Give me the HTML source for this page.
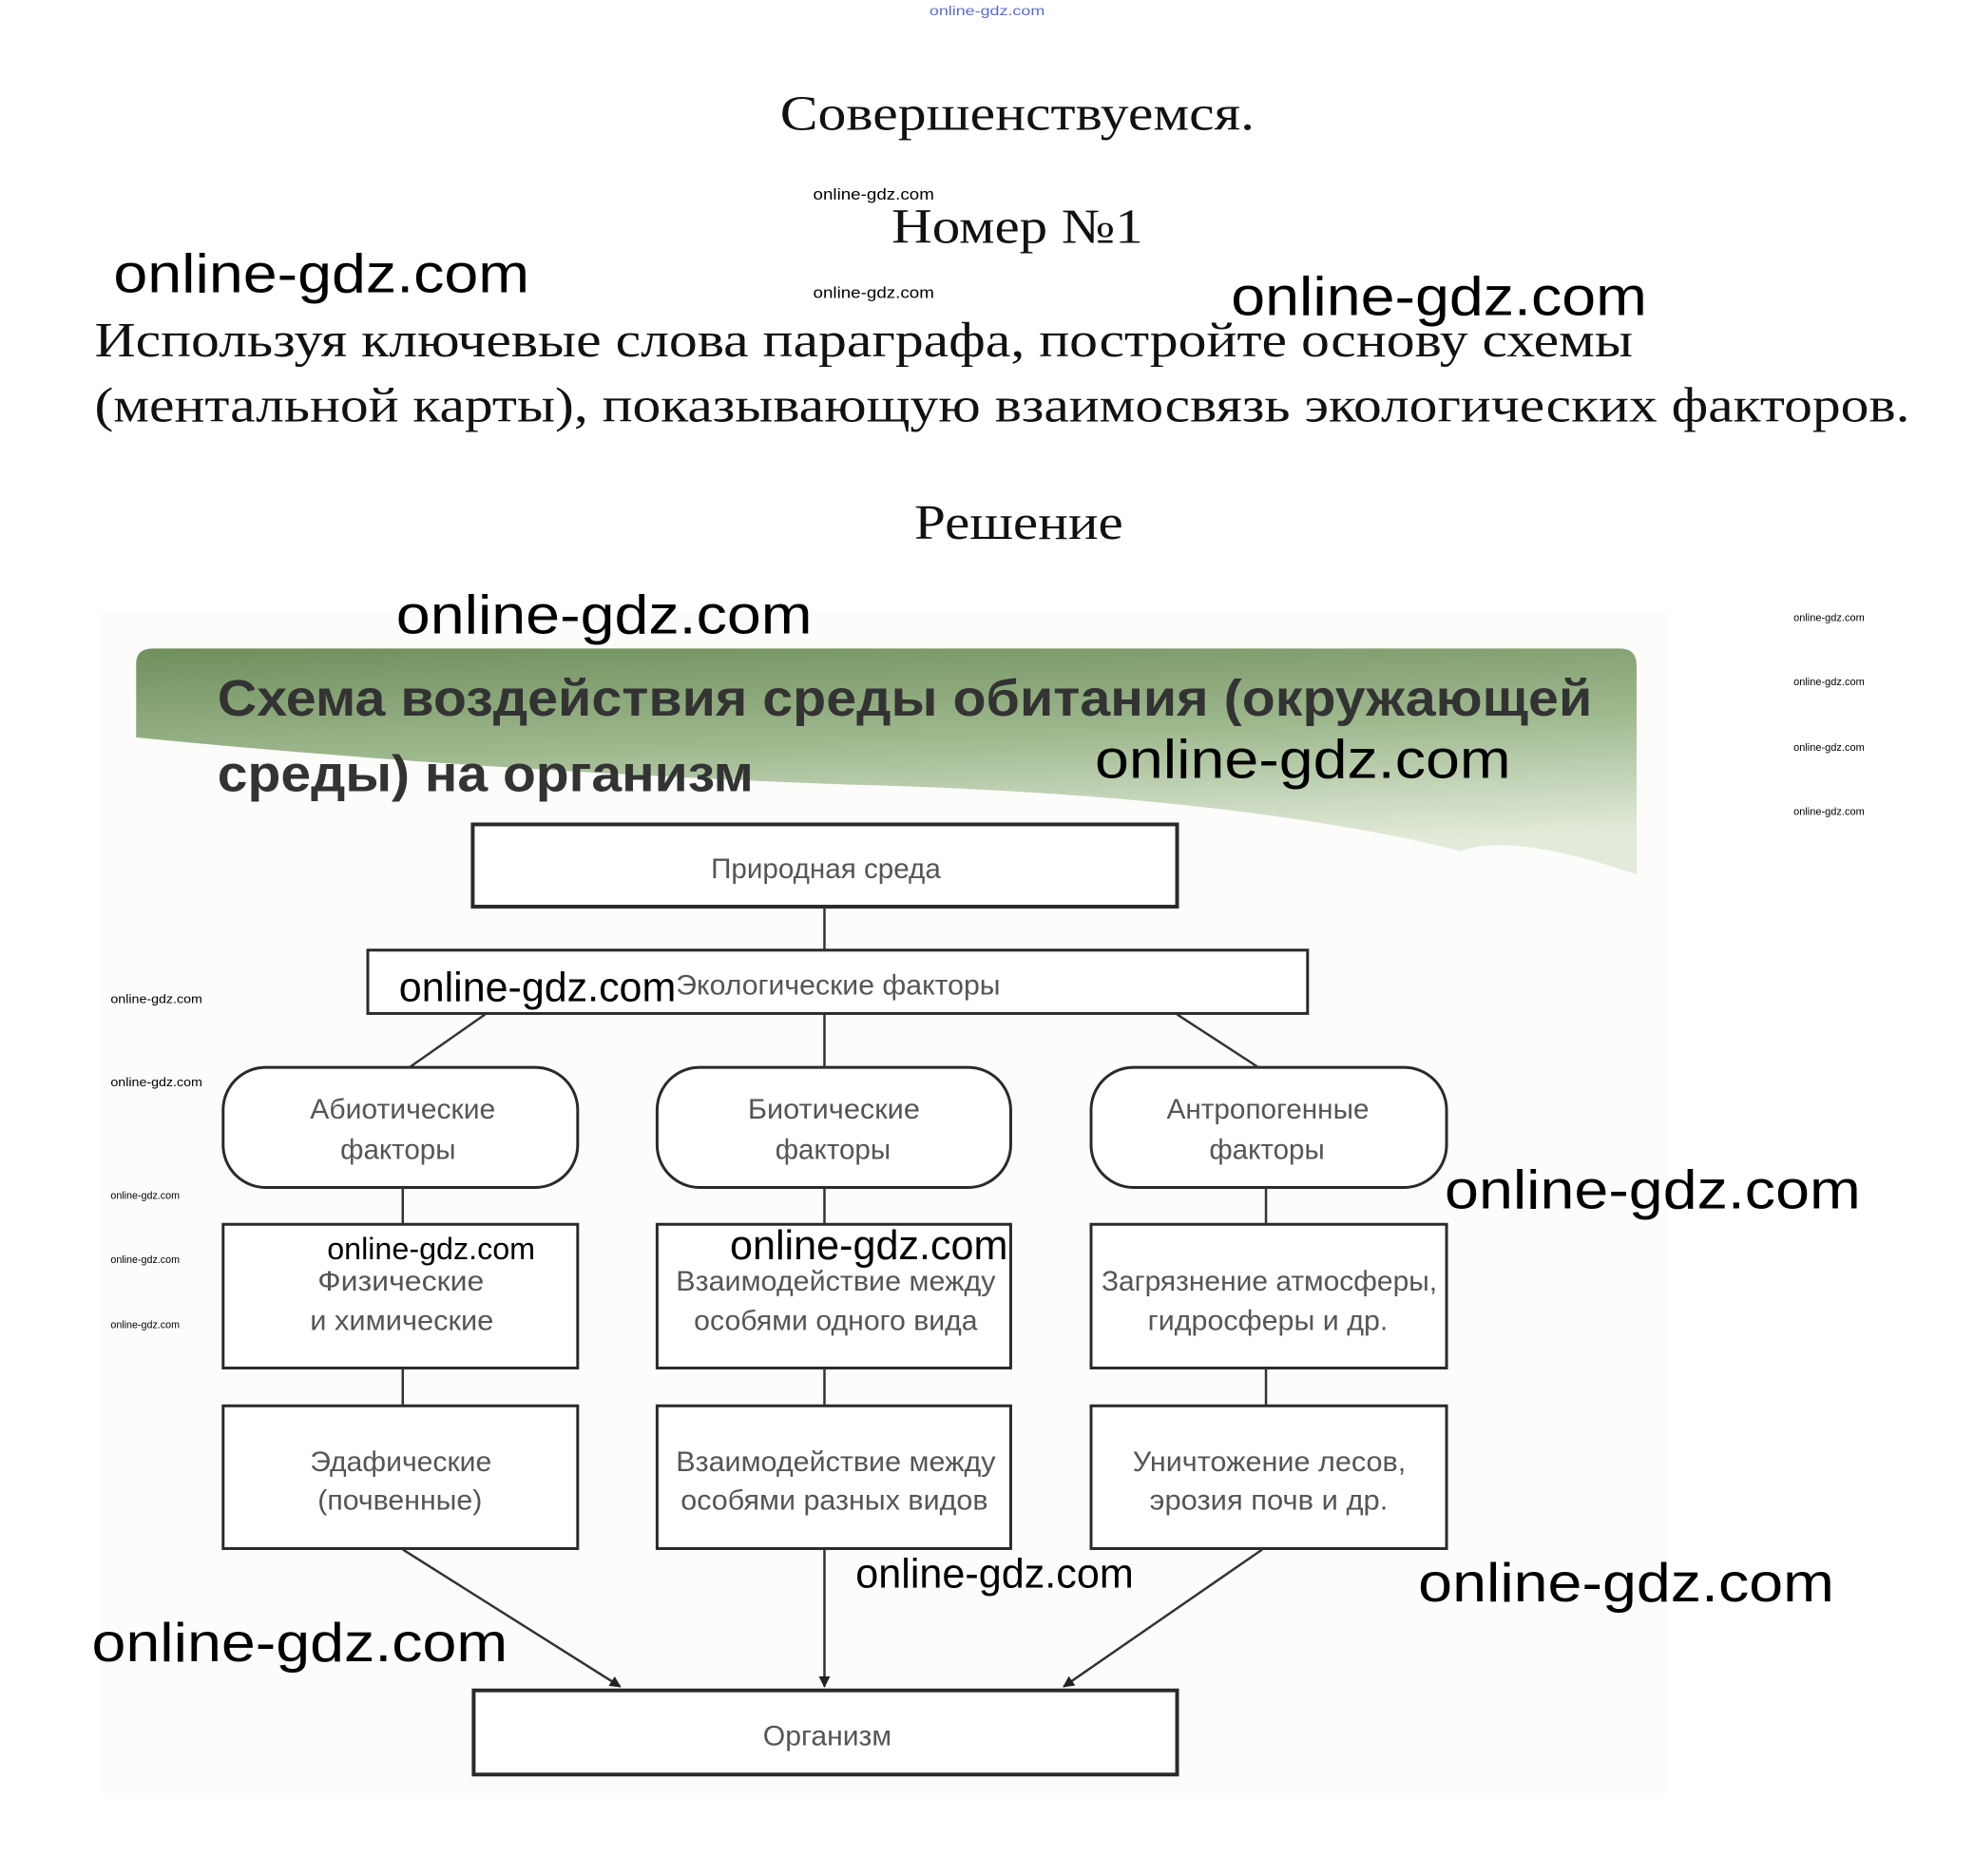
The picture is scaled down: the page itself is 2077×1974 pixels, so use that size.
<!DOCTYPE html>
<html><head><meta charset="utf-8"><style>html,body{margin:0;padding:0;background:#fff}svg{display:block}</style></head>
<body>
<svg width="2077" height="1974" viewBox="0 0 2077 1974" xmlns="http://www.w3.org/2000/svg">
<defs>
<linearGradient id="g" x1="0" y1="0" x2="0.25" y2="1">
<stop offset="0" stop-color="#6f8f5c"/><stop offset="0.5" stop-color="#9fb98f"/><stop offset="1" stop-color="#e2ebda"/>
</linearGradient>
<marker id="ar" viewBox="0 0 10 10" refX="9" refY="5" markerWidth="12" markerHeight="12" orient="auto-start-reverse" markerUnits="userSpaceOnUse"><path d="M0,0 L10,5 L0,10 Z" fill="#222"/></marker>
</defs>
<g transform="scale(0.9948)">
<rect x="107" y="646" width="1657" height="1251" fill="#fcfcfb"/>
<g font-family="'Liberation Serif',serif" fill="#111" font-size="52">
<text x="825" y="137" textLength="502" lengthAdjust="spacingAndGlyphs">Совершенствуемся.</text>
<text x="943" y="257" textLength="266" lengthAdjust="spacingAndGlyphs">Номер №1</text>
<text x="100" y="377" textLength="1627" lengthAdjust="spacingAndGlyphs">Используя ключевые слова параграфа, постройте основу схемы</text>
<text x="100" y="446" textLength="1920" lengthAdjust="spacingAndGlyphs">(ментальной карты), показывающую взаимосвязь экологических факторов.</text>
<text x="967" y="570" textLength="221" lengthAdjust="spacingAndGlyphs">Решение</text>
</g>
<path d="M144,702 Q144,686 162,686 L1713,686 Q1731,686 1731,704 L1731,925 Q1600,880 1545,900 Q1300,840 900,830 Q500,815 144,780 Z" fill="url(#g)"/>
<g font-family="'Liberation Sans','DejaVu Sans',sans-serif" font-weight="bold" fill="#333" font-size="54">
<text x="230" y="757" textLength="1454" lengthAdjust="spacingAndGlyphs">Схема воздействия среды обитания (окружающей</text>
<text x="230" y="837" textLength="567" lengthAdjust="spacingAndGlyphs">среды) на организм</text>
</g>
<g fill="#fff" stroke="#2a2a2a">
<rect x="500" y="872" width="745" height="87" stroke-width="4"/>
<rect x="389" y="1005" width="994" height="67" stroke-width="3"/>
<rect x="236" y="1129" width="375" height="127" rx="45" stroke-width="3"/>
<rect x="695" y="1129" width="374" height="127" rx="45" stroke-width="3"/>
<rect x="1154" y="1129" width="376" height="127" rx="45" stroke-width="3"/>
<rect x="236" y="1295" width="375" height="152" stroke-width="3"/>
<rect x="695" y="1295" width="374" height="152" stroke-width="3"/>
<rect x="1154" y="1295" width="376" height="152" stroke-width="3"/>
<rect x="236" y="1487" width="375" height="151" stroke-width="3"/>
<rect x="695" y="1487" width="374" height="151" stroke-width="3"/>
<rect x="1154" y="1487" width="376" height="151" stroke-width="3"/>
<rect x="501" y="1788" width="744" height="89" stroke-width="4"/>
</g>
<g stroke="#333" stroke-width="2.5" fill="none">
<line x1="872" y1="959" x2="872" y2="1005"/>
<line x1="872" y1="1072" x2="872" y2="1129"/>
<line x1="513" y1="1073" x2="433" y2="1129"/>
<line x1="1245" y1="1073" x2="1331" y2="1129"/>
<line x1="426" y1="1256" x2="426" y2="1295"/><line x1="872" y1="1256" x2="872" y2="1295"/><line x1="1339" y1="1256" x2="1339" y2="1295"/>
<line x1="426" y1="1447" x2="426" y2="1487"/><line x1="872" y1="1447" x2="872" y2="1487"/><line x1="1339" y1="1447" x2="1339" y2="1487"/>
<line x1="426" y1="1639" x2="656" y2="1784" marker-end="url(#ar)"/>
<line x1="872" y1="1639" x2="872" y2="1784" marker-end="url(#ar)"/>
<line x1="1335" y1="1639" x2="1125" y2="1784" marker-end="url(#ar)"/>
</g>
<g font-family="'Liberation Sans','DejaVu Sans',sans-serif" fill="#555" font-size="30">
<text x="752" y="929" textLength="243" lengthAdjust="spacingAndGlyphs">Природная среда</text>
<text x="715" y="1052" textLength="343" lengthAdjust="spacingAndGlyphs">Экологические факторы</text>
<text x="328" y="1183" textLength="196" lengthAdjust="spacingAndGlyphs">Абиотические</text>
<text x="360" y="1226" textLength="122" lengthAdjust="spacingAndGlyphs">факторы</text>
<text x="791" y="1183" textLength="182" lengthAdjust="spacingAndGlyphs">Биотические</text>
<text x="820" y="1226" textLength="122" lengthAdjust="spacingAndGlyphs">факторы</text>
<text x="1234" y="1183" textLength="214" lengthAdjust="spacingAndGlyphs">Антропогенные</text>
<text x="1279" y="1226" textLength="122" lengthAdjust="spacingAndGlyphs">факторы</text>
<text x="336" y="1365" textLength="176" lengthAdjust="spacingAndGlyphs">Физические</text>
<text x="328" y="1407" textLength="194" lengthAdjust="spacingAndGlyphs">и химические</text>
<text x="715" y="1365" textLength="338" lengthAdjust="spacingAndGlyphs">Взаимодействие между</text>
<text x="734" y="1407" textLength="300" lengthAdjust="spacingAndGlyphs">особями одного вида</text>
<text x="1165" y="1365" textLength="355" lengthAdjust="spacingAndGlyphs">Загрязнение атмосферы,</text>
<text x="1214" y="1407" textLength="254" lengthAdjust="spacingAndGlyphs">гидросферы и др.</text>
<text x="328" y="1556" textLength="192" lengthAdjust="spacingAndGlyphs">Эдафические</text>
<text x="336" y="1597" textLength="174" lengthAdjust="spacingAndGlyphs">(почвенные)</text>
<text x="715" y="1556" textLength="338" lengthAdjust="spacingAndGlyphs">Взаимодействие между</text>
<text x="720" y="1597" textLength="325" lengthAdjust="spacingAndGlyphs">особями разных видов</text>
<text x="1198" y="1556" textLength="289" lengthAdjust="spacingAndGlyphs">Уничтожение лесов,</text>
<text x="1216" y="1597" textLength="252" lengthAdjust="spacingAndGlyphs">эрозия почв и др.</text>
<text x="807" y="1846" textLength="136" lengthAdjust="spacingAndGlyphs">Организм</text>
</g>
<g font-family="'Liberation Sans','DejaVu Sans',sans-serif" fill="#000">
<text x="983" y="16" font-size="14" fill="#5b6bd8" textLength="122" lengthAdjust="spacingAndGlyphs">online-gdz.com</text>
<text x="120" y="309" font-size="58" textLength="440" lengthAdjust="spacingAndGlyphs">online-gdz.com</text>
<text x="1302" y="333" font-size="58" textLength="440" lengthAdjust="spacingAndGlyphs">online-gdz.com</text>
<text x="860" y="211" font-size="17" textLength="128" lengthAdjust="spacingAndGlyphs">online-gdz.com</text>
<text x="860" y="315" font-size="17" textLength="128" lengthAdjust="spacingAndGlyphs">online-gdz.com</text>
<text x="419" y="670" font-size="58" textLength="440" lengthAdjust="spacingAndGlyphs">online-gdz.com</text>
<text x="1158" y="823" font-size="58" textLength="440" lengthAdjust="spacingAndGlyphs">online-gdz.com</text>
<text x="1897" y="657" font-size="11" textLength="75" lengthAdjust="spacingAndGlyphs">online-gdz.com</text>
<text x="1897" y="725" font-size="11" textLength="75" lengthAdjust="spacingAndGlyphs">online-gdz.com</text>
<text x="1897" y="794" font-size="11" textLength="75" lengthAdjust="spacingAndGlyphs">online-gdz.com</text>
<text x="1897" y="862" font-size="11" textLength="75" lengthAdjust="spacingAndGlyphs">online-gdz.com</text>
<text x="422" y="1059" font-size="44" textLength="293" lengthAdjust="spacingAndGlyphs">online-gdz.com</text>
<text x="117" y="1061" font-size="13" textLength="97" lengthAdjust="spacingAndGlyphs">online-gdz.com</text>
<text x="117" y="1149" font-size="13" textLength="97" lengthAdjust="spacingAndGlyphs">online-gdz.com</text>
<text x="117" y="1268" font-size="11" textLength="73" lengthAdjust="spacingAndGlyphs">online-gdz.com</text>
<text x="117" y="1336" font-size="11" textLength="73" lengthAdjust="spacingAndGlyphs">online-gdz.com</text>
<text x="117" y="1405" font-size="11" textLength="73" lengthAdjust="spacingAndGlyphs">online-gdz.com</text>
<text x="346" y="1332" font-size="33" textLength="220" lengthAdjust="spacingAndGlyphs">online-gdz.com</text>
<text x="772" y="1332" font-size="44" textLength="294" lengthAdjust="spacingAndGlyphs">online-gdz.com</text>
<text x="1528" y="1278" font-size="58" textLength="440" lengthAdjust="spacingAndGlyphs">online-gdz.com</text>
<text x="905" y="1679" font-size="44" textLength="294" lengthAdjust="spacingAndGlyphs">online-gdz.com</text>
<text x="1500" y="1694" font-size="58" textLength="440" lengthAdjust="spacingAndGlyphs">online-gdz.com</text>
<text x="97" y="1757" font-size="58" textLength="440" lengthAdjust="spacingAndGlyphs">online-gdz.com</text>
</g>
</g>
</svg>
</body></html>
